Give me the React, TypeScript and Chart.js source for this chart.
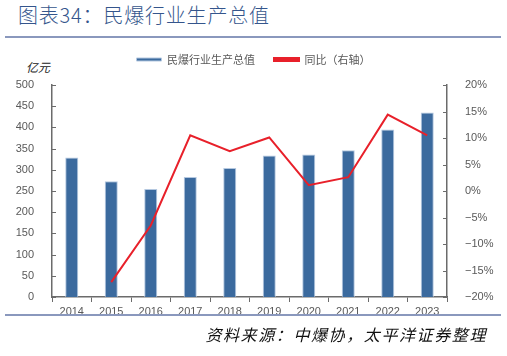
import React, { useEffect, useRef } from "react";
import { Chart, registerables } from "chart.js";

Chart.register(...registerables);

const years = ["2014", "2015", "2016", "2017", "2018", "2019", "2020", "2021", "2022", "2023"];
const outputValue = [329, 273, 255, 283, 304, 334, 336, 346, 395, 435];
const yoyPct = [null, -17.2, -6.5, 10.5, 7.5, 10.1, 1.1, 2.6, 14.4, 10.5];
const leftTicks = [0, 50, 100, 150, 200, 250, 300, 350, 400, 450, 500];
const rightTicks = [-20, -15, -10, -5, 0, 5, 10, 15, 20];

const AXIS = "#6b6b6b";
const TICKTXT = "#595959";

const innerTicks = {
  id: "innerTicks",
  afterDraw(chart: any) {
    const ctx = chart.ctx;
    ctx.save();
    ctx.strokeStyle = AXIS;
    ctx.lineWidth = 1;
    const y = chart.scales.y;
    const y1 = chart.scales.y1;
    y.ticks.forEach((_t: any, i: number) => {
      const p = Math.round(y.getPixelForTick(i)) + 0.5;
      ctx.beginPath();
      ctx.moveTo(y.right, p);
      ctx.lineTo(y.right + 4, p);
      ctx.stroke();
    });
    y1.ticks.forEach((_t: any, i: number) => {
      const p = Math.round(y1.getPixelForTick(i)) + 0.5;
      ctx.beginPath();
      ctx.moveTo(y1.left - 4, p);
      ctx.lineTo(y1.left, p);
      ctx.stroke();
    });
    ctx.restore();
  },
};

const legendGap = {
  id: "legendGap",
  beforeInit(chart: any) {
    const orig = chart.legend.fit;
    chart.legend.fit = function () {
      orig.bind(chart.legend)();
      this.height += 10;
    };
  },
};

export default function App() {
  const ref = useRef<HTMLCanvasElement | null>(null);
  useEffect(() => {
    if (!ref.current) return;
    const chart = new Chart(ref.current, {
      data: {
        labels: years,
        datasets: [
          {
            type: "bar",
            label: "民爆行业生产总值",
            data: outputValue,
            backgroundColor: "#3b6a9e",
            borderColor: "#b4c8e0",
            borderWidth: 1,
            borderSkipped: "bottom",
            barPercentage: 0.33,
            categoryPercentage: 1,
            yAxisID: "y",
            order: 2,
          },
          {
            type: "line",
            label: "同比（右轴）",
            data: yoyPct,
            borderColor: "#e8202a",
            backgroundColor: "#e8202a",
            borderWidth: 2,
            pointRadius: 0,
            tension: 0,
            yAxisID: "y1",
            order: 1,
          },
        ] as any,
      },
      options: {
        animation: false,
        responsive: true,
        maintainAspectRatio: false,
        layout: { padding: { top: 0, left: 0, right: 0, bottom: 0 } },
        plugins: {
          legend: {
            display: true,
            position: "top",
            labels: {
              boxWidth: 25,
              boxHeight: 3,
              padding: 19,
              color: TICKTXT,
              font: { size: 11, family: "'Noto Sans CJK SC', sans-serif" },
              sort: (a: any, b: any) => a.datasetIndex - b.datasetIndex,
            },
          },
          tooltip: { enabled: false },
        },
        scales: {
          x: {
            offset: true,
            grid: { display: true, drawOnChartArea: false, drawTicks: true, tickLength: 5, offset: true, color: AXIS },
            border: { display: true, color: AXIS, width: 1.5 },
            ticks: { color: TICKTXT, font: { size: 11, family: "'Liberation Sans', Arial, sans-serif" }, padding: 3, maxRotation: 0 },
            afterFit(s: any) { s.height = 23; },
          },
          y: {
            position: "left",
            min: 0,
            max: 500,
            afterBuildTicks(s: any) { s.ticks = leftTicks.map((v) => ({ value: v })); },
            grid: { display: false },
            border: { display: true, color: AXIS, width: 1.5 },
            ticks: { color: TICKTXT, font: { size: 11, family: "'Liberation Sans', Arial, sans-serif" }, padding: 10 },
            afterFit(s: any) { s.width = 52; },
          },
          y1: {
            position: "right",
            min: -20,
            max: 20,
            afterBuildTicks(s: any) { s.ticks = rightTicks.map((v) => ({ value: v })); },
            grid: { display: false },
            border: { display: true, color: AXIS, width: 1.5 },
            ticks: {
              color: TICKTXT,
              font: { size: 11, family: "'Liberation Sans', Arial, sans-serif" },
              padding: 10,
              callback: (v: any) => (v < 0 ? "\u2212" + Math.abs(v) + "%" : v + "%"),
            },
            afterFit(s: any) { s.width = 60; },
          },
        },
      } as any,
      plugins: [innerTicks, legendGap],
    });
    return () => chart.destroy();
  }, []);

  const cjk = "'Noto Sans CJK SC', 'Noto Sans', sans-serif";
  return (
    <div style={{ position: "fixed", left: 0, top: 0, width: 507, height: 356, background: "#fff", overflow: "hidden" }}>
      <div style={{ position: "absolute", left: 18, top: 1, fontSize: 20, fontWeight: 300, color: "#34558c", fontFamily: cjk, letterSpacing: 0.8, lineHeight: "28px" }}>
        图表34：民爆行业生产总值
      </div>
      <div style={{ position: "absolute", left: 5, top: 36, width: 496, height: 1.5, background: "#8a98bd" }} />
      <div style={{ position: "absolute", left: 26, top: 59, fontSize: 12, color: "#222", fontFamily: cjk, fontStyle: "italic", lineHeight: "16px" }}>
        亿元
      </div>
      <div style={{ position: "absolute", left: 0, top: 35, width: 507, height: 285 }}>
        <canvas ref={ref} />
      </div>
      <div style={{ position: "absolute", left: 5, top: 314, width: 496, height: 1.5, background: "#8a98bd" }} />
      <div style={{ position: "absolute", right: 20, top: 322, fontSize: 16, color: "#111", fontFamily: cjk, fontStyle: "italic", letterSpacing: 1.6, lineHeight: "24px" }}>
        资料来源：中爆协，太平洋证券整理
      </div>
    </div>
  );
}
